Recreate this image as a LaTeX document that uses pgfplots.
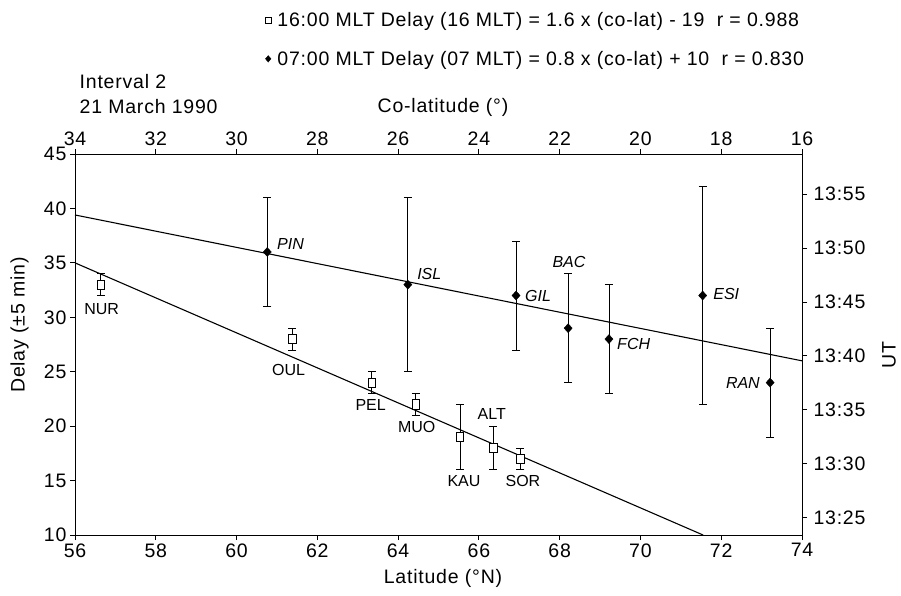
\documentclass[border=0pt]{standalone}
\usepackage{fontspec}
\setmainfont{Liberation Sans}
\newfontfamily\widefont{Liberation Sans}[LetterSpace=4]
\usepackage{pgfplots}
\usepackage{pgfplotstable}
\pgfplotsset{compat=1.18}
\newcommand{\fbig}{\widefont\fontsize{19.5}{23}\selectfont}
\newcommand{\fsta}{\fontsize{16}{19}\selectfont}

% 16:00 MLT stations: latitude, delay, error
\pgfplotstableread{
lat d e
56.64 33 1
61.38 28 1
63.35 24 1
64.44 22 1
65.53 19 3
66.35 18 2
67.03 17 1
}\sqdata
% 07:00 MLT stations
\pgfplotstableread{
lat d e
60.76 36 5
64.24 33 8
66.92 32 5
68.21 29 5
69.22 28 5
71.54 32 10
73.21 24 5
}\dmdata

\begin{document}
\begin{tikzpicture}[x=1pt,y=1pt]
\useasboundingbox (0,0) rectangle (901,595);
\pgfplotsset{
  base/.style={scale only axis, width=727pt, height=381pt,
    at={(75pt,60pt)}, anchor=south west,
    xmin=56, xmax=74, ymin=10, ymax=45,
    tick align=outside, major tick length=5pt,
    tick style={black, line width=0.9pt},
    axis line style={line width=1pt},
    /pgf/number format/assume math mode=true,
    tick label style={font=\fbig},
    clip=false},
  ebar/.style={error bars/.cd, y dir=both, y explicit,
    error bar style={line width=0.8pt},
    error mark options={rotate=90, line width=0.8pt, mark size=4pt}},
}
\begin{axis}[base,
  xtick={56,58,...,74}, ytick={10,15,...,45},
  xtick pos=bottom, ytick pos=left,
  legend style={draw=none, fill=none, at={(0.2614,1.3005)}, anchor=west,
    font=\fbig, inner sep=0pt, outer sep=0pt, row sep=19pt,
    nodes={inner sep=2pt}},
  legend cell align=left,
  legend image code/.code={\draw[#1] plot coordinates {(0pt,0pt)}; \path (-3pt,0pt) (7pt,0pt);},
]
\addlegendimage{only marks, mark=square, mark size=2.7pt, mark options={line width=0.7pt, yscale=1.15}}
\addlegendentry{16:00 MLT Delay (16 MLT) = 1.6 x (co-lat) - 19\ \ r = 0.988}
\addlegendimage{only marks, mark=diamond*, mark size=3.2pt, mark options={xscale=1.15}}
\addlegendentry{07:00 MLT Delay (07 MLT) = 0.8 x (co-lat) + 10\ \ r = 0.830}

\addplot[black, line width=1.1pt, forget plot] coordinates {(56,39.4) (74,26.0)};
\addplot[black, line width=1.1pt, forget plot] coordinates {(56,35.0) (71.55,10)};

\addplot[black, only marks, mark=diamond*, mark size=4.5pt, forget plot,
  mark options={xscale=1.2}, ebar]
  table[x=lat, y=d, y error=e] {\dmdata};
\addplot[black, only marks, mark=square*, mark size=3.9pt, forget plot,
  mark options={fill=white, line width=0.8pt, yscale=1.18}, ebar]
  table[x=lat, y=d, y error=e] {\sqdata};

\begin{scope}[every node/.style={inner sep=0pt, font=\fsta\itshape}]
\node[anchor=west] at (axis cs:61.00,36.73) {PIN};
\node[anchor=west] at (axis cs:64.47,33.98) {ISL};
\node[anchor=west] at (axis cs:67.14,31.98) {GIL};
\node at (axis cs:68.23,35.11) {BAC};
\node[anchor=west] at (axis cs:69.42,27.55) {FCH};
\node[anchor=west] at (axis cs:71.80,32.11) {ESI};
\node[anchor=east] at (axis cs:72.96,23.94) {RAN};
\end{scope}
\begin{scope}[every node/.style={inner sep=0pt, font=\fsta}]
\node at (axis cs:56.66,30.76) {NUR};
\node at (axis cs:61.29,25.16) {OUL};
\node at (axis cs:63.32,21.94) {PEL};
\node at (axis cs:64.46,19.95) {MUO};
\node at (axis cs:65.63,14.96) {KAU};
\node at (axis cs:66.32,21.12) {ALT};
\node at (axis cs:67.09,14.96) {SOR};
\end{scope}
\end{axis}

\begin{axis}[base,
  xtick={56,58,...,74},
  xticklabels={34,32,30,28,26,24,22,20,18,16},
  xtick pos=top, xticklabel pos=top,
  ytick={11.6,16.55,21.5,26.45,31.4,36.35,41.3},
  yticklabels={13:25,13:30,13:35,13:40,13:45,13:50,13:55},
  ytick pos=right, yticklabel pos=right,
  yticklabel style={xshift=3pt},
]
\end{axis}

\node[font=\fbig, anchor=base west, inner sep=0pt] at (79.5,506) {Interval 2};
\node[font=\fbig, anchor=base west, inner sep=0pt] at (79.5,481) {21 March 1990};
\node[font=\fbig, anchor=base, inner sep=0pt] at (443,482) {Co-latitude (°)};
\node[font=\fbig, inner sep=0pt] at (443,17) {Latitude (°N)};
\node[font=\fbig, inner sep=0pt, rotate=90] at (19.5,270) {Delay (±5 min)};
\node[font=\fbig, inner sep=0pt, rotate=90] at (889,240) {UT};
\end{tikzpicture}
\end{document}
